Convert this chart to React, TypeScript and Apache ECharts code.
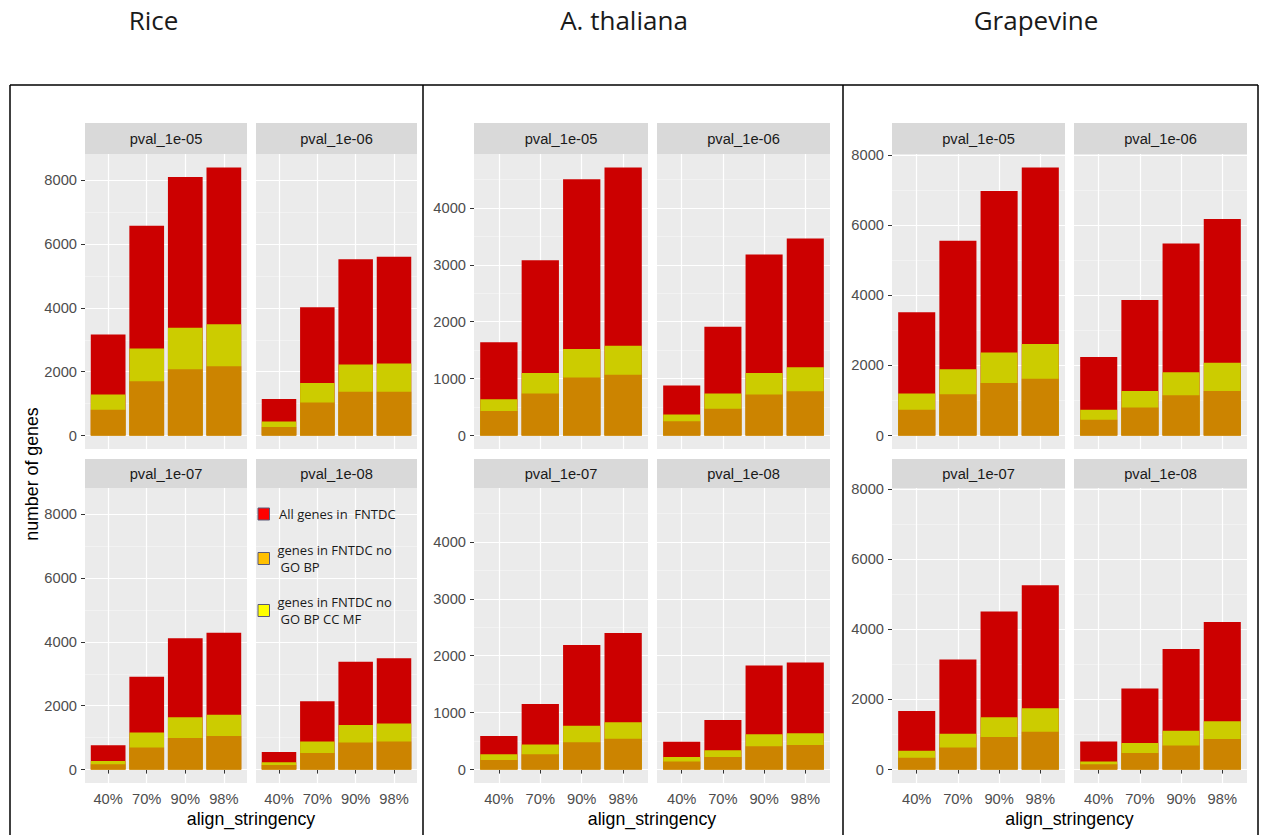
import React, { useEffect, useRef } from "react";
import * as echarts from "echarts";

// ---- data -------------------------------------------------------------
const categories = ["40%", "70%", "90%", "98%"];
const pvals = ["pval_1e-05", "pval_1e-06", "pval_1e-07", "pval_1e-08"];
const speciesNames = ["Rice", "A. thaliana", "Grapevine"];

// All genes in FNTDC (one row per p-value facet)
const riceAll = [
  [3170, 6570, 8100, 8400],
  [1150, 4020, 5520, 5600],
  [760, 2910, 4110, 4290],
  [550, 2140, 3380, 3490],
];
// genes in FNTDC no GO BP CC MF
const riceNoBpCcMf = [
  [1290, 2730, 3375, 3490],
  [440, 1650, 2230, 2260],
  [270, 1160, 1640, 1720],
  [230, 880, 1400, 1440],
];
// genes in FNTDC no GO BP
const riceNoBp = [
  [810, 1700, 2080, 2170],
  [270, 1040, 1375, 1375],
  [170, 690, 990, 1050],
  [145, 520, 845, 880],
];

const athAll = [
  [1640, 3080, 4500, 4710],
  [880, 1910, 3180, 3460],
  [590, 1150, 2190, 2400],
  [490, 870, 1830, 1880],
];
const athNoBpCcMf = [
  [640, 1100, 1520, 1580],
  [370, 740, 1100, 1200],
  [270, 440, 770, 830],
  [220, 340, 620, 640],
];
const athNoBp = [
  [430, 740, 1020, 1070],
  [250, 470, 720, 780],
  [170, 270, 480, 540],
  [140, 220, 410, 430],
];

const grapeAll = [
  [3520, 5560, 6980, 7650],
  [2240, 3870, 5480, 6180],
  [1670, 3140, 4510, 5260],
  [800, 2310, 3440, 4210],
];
const grapeNoBpCcMf = [
  [1200, 1890, 2370, 2610],
  [740, 1270, 1810, 2080],
  [540, 1020, 1490, 1750],
  [230, 760, 1110, 1380],
];
const grapeNoBp = [
  [740, 1180, 1500, 1620],
  [450, 800, 1150, 1270],
  [340, 630, 930, 1080],
  [150, 470, 690, 870],
];

// y-axis tick values per species
const riceMajor = [0, 2000, 4000, 6000, 8000];
const riceMinor = [1000, 3000, 5000, 7000];
const athMajor = [0, 1000, 2000, 3000, 4000];
const athMinor = [500, 1500, 2500, 3500, 4500];
const grapeMajor = [0, 2000, 4000, 6000, 8000];
const grapeMinor = [1000, 3000, 5000, 7000];

const legendLabels = [
  ["All genes in  FNTDC"],
  ["genes in FNTDC no", "GO BP"],
  ["genes in FNTDC no", "GO BP CC MF"],
];

// ---- styling / layout -------------------------------------------------
const RED = "#cc0000";
const YELLOW = "#cccc00";
const ORANGE = "#cc8400";
const PANEL_BG = "#ebebeb";
const STRIP_BG = "#d9d9d9";
const AXIS_FONT = "Liberation Sans, Arial, sans-serif";
const TITLE_FONT = "Open Sans, sans-serif";

const speciesData = [
  { all: riceAll, mid: riceNoBpCcMf, low: riceNoBp, major: riceMajor, minor: riceMinor },
  { all: athAll, mid: athNoBpCcMf, low: athNoBp, major: athMajor, minor: athMinor },
  { all: grapeAll, mid: grapeNoBpCcMf, low: grapeNoBp, major: grapeMajor, minor: grapeMinor },
];

// panel column extents per species, and row extents (strip top, panel top, panel bottom)
const colX = [
  [[85, 247], [256, 417]],
  [[474, 648], [657, 830]],
  [[892, 1065], [1074, 1247]],
];
const rowY = [
  [123, 154, 449],
  [459, 488, 783],
];
const titleX = [153.5, 624, 1036];

function buildOption() {
  const grid: any[] = [];
  const xAxis: any[] = [];
  const yAxis: any[] = [];
  const series: any[] = [];
  const graphic: any[] = [];

  const text = (x: number, y: number, str: string, extra: any = {}) => ({
    type: "text",
    x,
    y,
    z: 100,
    silent: true,
    rotation: extra.rotation || 0,
    style: {
      text: str,
      fontSize: extra.fontSize || 14.7,
      fontFamily: extra.fontFamily || AXIS_FONT,
      fill: extra.fill || "#1a1a1a",
      align: extra.align || "center",
      verticalAlign: "middle",
      textAlign: extra.align || "center",
      textVerticalAlign: "middle",
    },
  });

  speciesData.forEach((sp, s) => {
    const maxAll = Math.max(...sp.all.map((r) => Math.max(...r)));
    const yMin = -0.05 * maxAll;
    const yMax = 1.05 * maxAll;

    for (let f = 0; f < 4; f++) {
      const col = f % 2;
      const row = Math.floor(f / 2);
      const [x0, x1] = colX[s][col];
      const [sTop, pTop, pBot] = rowY[row];
      const gi = grid.length;
      const width = x1 - x0;

      grid.push({
        left: x0,
        top: pTop,
        width,
        height: pBot - pTop,
        show: true,
        backgroundColor: PANEL_BG,
        borderWidth: 0,
      });

      xAxis.push({
        type: "value",
        gridIndex: gi,
        min: 0.4,
        max: 4.6,
        axisLine: { show: false },
        axisTick: {
          show: row === 1,
          customValues: [1, 2, 3, 4],
          length: 4,
          lineStyle: { color: "#333", width: 1 },
        },
        axisLabel: {
          show: row === 1,
          customValues: [1, 2, 3, 4],
          formatter: (v: number) => categories[Math.round(v) - 1],
          color: "#4d4d4d",
          fontSize: 14.7,
          fontFamily: AXIS_FONT,
          margin: 8,
        },
        splitLine: { show: true, lineStyle: { color: "#ffffff", width: 1.2 } },
      });

      const yMain = yAxis.length;
      yAxis.push({
        type: "value",
        gridIndex: gi,
        min: yMin,
        max: yMax,
        axisLine: { show: false },
        axisTick: {
          show: col === 0,
          customValues: sp.major,
          length: 4,
          lineStyle: { color: "#333", width: 1 },
        },
        axisLabel: {
          show: col === 0,
          customValues: sp.major,
          formatter: (v: number) => String(Math.round(v)),
          color: "#4d4d4d",
          fontSize: 14.7,
          fontFamily: AXIS_FONT,
          margin: 8,
        },
        splitLine: { show: true, lineStyle: { color: "#ffffff", width: 1.2 } },
        z: 1,
      });
      yAxis.push({
        type: "value",
        gridIndex: gi,
        min: yMin,
        max: yMax,
        axisLine: { show: false },
        axisTick: { show: false, customValues: sp.minor },
        axisLabel: { show: false, customValues: sp.minor },
        splitLine: { show: true, lineStyle: { color: "#f7f7f7", width: 0.6 } },
        z: 0,
      });

      const barWidth = (0.9 * width) / 4.2;
      const layers = [
        { name: "All genes in FNTDC", data: sp.all[f], color: RED },
        { name: "genes in FNTDC no GO BP CC MF", data: sp.mid[f], color: YELLOW },
        { name: "genes in FNTDC no GO BP", data: sp.low[f], color: ORANGE },
      ];
      layers.forEach((l) => {
        series.push({
          type: "bar",
          name: l.name,
          xAxisIndex: gi,
          yAxisIndex: yMain,
          barWidth,
          barGap: "-100%",
          data: l.data.map((v, i) => [i + 1, v]),
          itemStyle: { color: l.color },
          silent: true,
        });
      });

      // facet strip
      graphic.push({
        type: "rect",
        silent: true,
        shape: { x: x0, y: sTop, width, height: pTop - sTop },
        style: { fill: STRIP_BG },
      });
      graphic.push(text(x0 + width / 2, (sTop + pTop) / 2 + 0.5, pvals[f]));
    }

    // species title and x-axis title
    graphic.push(
      text(titleX[s], 19.5, speciesNames[s], { fontSize: 26, fontFamily: TITLE_FONT, fill: "#1a1a1a" })
    );
    const cx = (colX[s][0][0] + colX[s][1][1]) / 2;
    graphic.push(text(cx, 818.5, "align_stringency", { fontSize: 17.8, fill: "#000" }));
  });

  // y-axis title
  graphic.push(
    text(31.5, 474, "number of genes", { fontSize: 17.8, fill: "#000", rotation: Math.PI / 2 })
  );

  // frame around the three plots
  const frame = { stroke: "#000", lineWidth: 1.5 };
  graphic.push({ type: "line", z: 100, silent: true, shape: { x1: 10, y1: 85, x2: 1258, y2: 85 }, style: frame });
  [10, 423, 843, 1258].forEach((x) =>
    graphic.push({ type: "line", z: 100, silent: true, shape: { x1: x, y1: 85, x2: x, y2: 835 }, style: frame })
  );

  // hand-made legend inside the Rice pval_1e-08 facet
  const legendColors = ["#ff0000", "#ffc000", "#ffff00"];
  const legendY = [514, 558.5, 610.5];
  legendColors.forEach((c, i) => {
    graphic.push({
      type: "rect",
      z: 100,
      silent: true,
      shape: { x: 258, y: legendY[i] - 6, width: 11.5, height: 12 },
      style: { fill: c, stroke: "#5a5a78", lineWidth: 1 },
    });
    const lines = legendLabels[i];
    if (lines.length === 1) {
      graphic.push(
        text(279, legendY[i], lines[0], { fontSize: 13, fontFamily: TITLE_FONT, fill: "#1a1a1a", align: "left" })
      );
    } else {
      graphic.push(
        text(277.5, legendY[i] - 9, lines[0], { fontSize: 13, fontFamily: TITLE_FONT, fill: "#1a1a1a", align: "left" })
      );
      graphic.push(
        text(280.5, legendY[i] + 8, lines[1], { fontSize: 13, fontFamily: TITLE_FONT, fill: "#1a1a1a", align: "left" })
      );
    }
  });

  return {
    animation: false,
    backgroundColor: "#ffffff",
    grid,
    xAxis,
    yAxis,
    series,
    graphic: { elements: graphic },
  };
}

export default function App() {
  const ref = useRef<HTMLDivElement>(null);

  useEffect(() => {
    if (!ref.current) return;
    const chart = echarts.init(ref.current, undefined, { renderer: "svg" });
    chart.setOption(buildOption() as any);
    return () => chart.dispose();
  }, []);

  return (
    <div
      ref={ref}
      style={{ position: "absolute", left: 0, top: 0, width: 1262, height: 835 }}
    />
  );
}
